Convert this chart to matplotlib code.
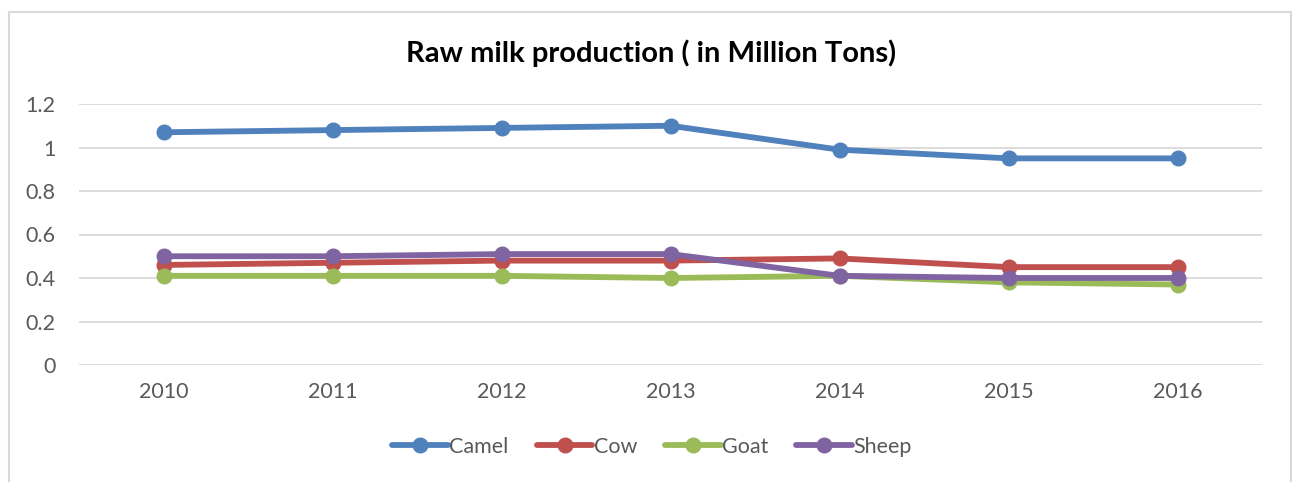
import matplotlib.pyplot as plt
from matplotlib.patches import Rectangle

years = ["2010", "2011", "2012", "2013", "2014", "2015", "2016"]
camel = [1.07, 1.08, 1.09, 1.10, 0.99, 0.95, 0.95]
cow = [0.46, 0.47, 0.48, 0.48, 0.49, 0.45, 0.45]
goat = [0.41, 0.41, 0.41, 0.40, 0.41, 0.38, 0.37]
sheep = [0.50, 0.50, 0.51, 0.51, 0.41, 0.40, 0.40]
y_ticks = [0, 0.2, 0.4, 0.6, 0.8, 1, 1.2]
y_labels = ["0", "0.2", "0.4", "0.6", "0.8", "1", "1.2"]

series = [
    ("Camel", camel, "#4F81BD"),
    ("Cow", cow, "#C0504D"),
    ("Goat", goat, "#9BBB59"),
    ("Sheep", sheep, "#8064A2"),
]

plt.rcParams["font.family"] = ["Lato", "DejaVu Sans"]
text_color = "#595959"

W, H = 1296, 482
fig = plt.figure(figsize=(W / 100, H / 100), dpi=100)

# chart area border
fig.patches.append(Rectangle((9 / W, -0.02), (1291 - 9) / W, 1 - 12 / H + 0.02,
                             transform=fig.transFigure, fill=False,
                             edgecolor="#D9D9D9", linewidth=1.5))

ax = fig.add_axes([79 / W, 1 - 365 / H, (1262 - 79) / W, (365 - 104) / H])
x = list(range(len(years)))
for name, vals, color in series:
    ax.plot(x, vals, color=color, linewidth=4.2, marker="o", markersize=10.5,
            label=name, clip_on=False, solid_capstyle="round")

ax.set_xlim(-0.5, len(years) - 0.5)
ax.set_ylim(0, 1.2)
ax.set_yticks(y_ticks)
ax.set_yticklabels(y_labels)
ax.set_xticks(x)
ax.set_xticklabels(years)
ax.grid(axis="y", color="#D9D9D9", linewidth=1.3)
ax.set_axisbelow(True)
for s in ax.spines.values():
    s.set_visible(False)
ax.tick_params(axis="both", length=0, labelsize=15.5, colors=text_color)
ax.tick_params(axis="y", pad=17)
ax.tick_params(axis="x", pad=12)

fig.text(651 / W, 1 - 53 / H, "Raw milk production ( in Million Tons)",
         ha="center", va="center", fontsize=21, fontweight="bold", color="black")

leg = fig.legend(loc="center", bbox_to_anchor=(652 / W, 1 - 447 / H), ncol=4,
                 frameon=False, fontsize=15.5, handlelength=2.6,
                 handletextpad=0.05, columnspacing=1.3)
for t in leg.get_texts():
    t.set_color(text_color)

fig.savefig("out.png", dpi=100, facecolor="white")
